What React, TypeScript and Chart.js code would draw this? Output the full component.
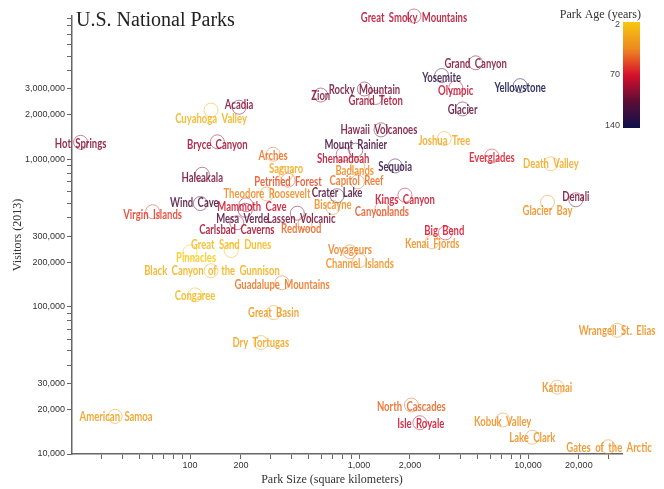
import { useEffect, useRef } from 'react';
import { Chart, registerables } from 'chart.js';

Chart.register(...registerables);

// ---- data ----
const parks = [
  'Acadia', 'American Samoa', 'Arches', 'Badlands', 'Big Bend', 'Biscayne',
  'Black Canyon of the Gunnison', 'Bryce Canyon', 'Canyonlands', 'Capitol Reef',
  'Carlsbad Caverns', 'Channel Islands', 'Congaree', 'Crater Lake', 'Cuyahoga Valley',
  'Death Valley', 'Denali', 'Dry Tortugas', 'Everglades', 'Gates of the Arctic',
  'Glacier', 'Glacier Bay', 'Grand Canyon', 'Grand Teton', 'Great Basin',
  'Great Sand Dunes', 'Great Smoky Mountains', 'Guadalupe Mountains', 'Haleakala',
  'Hawaii Volcanoes', 'Hot Springs', 'Isle Royale', 'Joshua Tree', 'Katmai',
  'Kenai Fjords', 'Kings Canyon', 'Kobuk Valley', 'Lake Clark', 'Lassen Volcanic',
  'Mammoth Cave', 'Mesa Verde', 'Mount Rainier', 'North Cascades', 'Olympic',
  'Petrified Forest', 'Pinnacles', 'Redwood', 'Rocky Mountain', 'Saguaro', 'Sequoia',
  'Shenandoah', 'Theodore Roosevelt', 'Virgin Islands', 'Voyageurs', 'Wind Cave',
  'Wrangell St. Elias', 'Yellowstone', 'Yosemite', 'Zion',
];

// park size, square kilometers
const areaKm2 = [
  195, 36, 310, 982, 3242, 700,
  133, 145, 1366, 979,
  189, 1010, 107, 741, 133,
  13650, 19186, 262, 6107, 29800,
  4100, 13045, 4900, 1255, 312,
  175, 2114, 350, 118,
  1348, 22.5, 2290, 3196, 14870,
  2711, 1869, 7085, 10602, 431,
  214, 212, 956, 2040, 3734,
  380, 100, 480, 1076, 370, 1635,
  806, 285, 60, 883, 115,
  33683, 8983, 3081, 593,
];

// recreational visitors in 2013
const visitors2013 = [
  2250000, 18000, 1080000, 892000, 316000, 470000,
  175000, 1310000, 460000, 700000,
  370000, 205000, 120000, 565000, 2150000,
  930000, 530000, 57000, 1050000, 11200,
  2190000, 510000, 4500000, 2620000, 91000,
  240000, 9350000, 145000, 790000,
  1580000, 1300000, 16300, 1380000, 28400,
  275000, 570000, 17000, 13000, 430000,
  490000, 450000, 1150000, 21500, 3050000,
  720000, 235000, 370000, 2990000, 800000, 900000,
  1080000, 580000, 440000, 235000, 500000,
  69000, 3150000, 3690000, 2720000,
];

// park age, years
const parkAge = [
  96, 27, 44, 37, 71, 35,
  16, 87, 51, 44,
  85, 35, 12, 113, 15,
  21, 98, 23, 68, 35,
  105, 35, 96, 86, 29,
  11, 81, 43, 99,
  99, 94, 75, 21, 35,
  35, 75, 35, 35, 99,
  74, 109, 116, 47, 77,
  53, 2, 47, 100, 21, 125,
  80, 37, 59, 40, 112,
  35, 140, 125, 96,
];

const xTickValues = [
  30, 40, 50, 60, 70, 80, 90,
  100, 200, 300, 400, 500, 600, 700, 800, 900,
  1000, 2000, 3000, 4000, 5000, 6000, 7000, 8000, 9000,
  10000, 20000, 30000,
];
const xTickLabels = [100, 200, 1000, 2000, 10000, 20000];

const yTickValues = [
  10000, 20000, 30000, 40000, 50000, 60000, 70000, 80000, 90000,
  100000, 200000, 300000, 400000, 500000, 600000, 700000, 800000, 900000,
  1000000, 2000000, 3000000, 4000000, 5000000, 6000000, 7000000, 8000000, 9000000,
];
const yTickLabels = [10000, 20000, 30000, 100000, 200000, 300000, 1000000, 2000000, 3000000];

const ageLegendTicks = [2, 70, 140];

// ---- layout / style ----
const W = 664;
const H = 489;
const AGE_MIN = 2;
const AGE_MAX = 140;

// small label shifts (px) so neighbouring names stay readable
const labelNudge: Record<string, [number, number]> = {
  'Acadia': [0, -3], 'American Samoa': [1, 0], 'Arches': [0, 1], 'Badlands': [-3, 4],
  'Big Bend': [-1, -2], 'Biscayne': [0, -3], 'Black Canyon of the Gunnison': [1, 0],
  'Bryce Canyon': [0, 3], 'Canyonlands': [0, 3], 'Capitol Reef': [-1, -1],
  'Carlsbad Caverns': [0, 7], 'Channel Islands': [0, 3], 'Congaree': [0, 1],
  'Crater Lake': [0, -3], 'Cuyahoga Valley': [0, 8], 'Denali': [0, -3],
  'Everglades': [0, 1], 'Gates of the Arctic': [1, 1], 'Glacier': [0, 1],
  'Glacier Bay': [0, 8], 'Grand Canyon': [0, 1], 'Grand Teton': [0, 3],
  'Great Sand Dunes': [0, -6], 'Great Smoky Mountains': [0, 1],
  'Guadalupe Mountains': [0, 2], 'Haleakala': [0, 3], 'Hawaii Volcanoes': [-2, 0],
  'Hot Springs': [0, 1], 'Isle Royale': [1, 1], 'Joshua Tree': [0, 2],
  'Kenai Fjords': [0, 2], 'Kings Canyon': [0, 4], 'Kobuk Valley': [0, 1],
  'Lassen Volcanic': [4, 5], 'Mammoth Cave': [6, 2], 'Mesa Verde': [-3, 8],
  'Mount Rainier': [0, -6], 'North Cascades': [0, 1], 'Olympic': [0, 3],
  'Petrified Forest': [0, 1], 'Pinnacles': [6, 6], 'Redwood': [-4, 6],
  'Saguaro': [0, -5], 'Sequoia': [0, 1], 'Shenandoah': [0, 4],
  'Theodore Roosevelt': [0, -1], 'Virgin Islands': [0, 3], 'Voyageurs': [0, -2],
  'Wind Cave': [-6, -1], 'Yellowstone': [0, 2], 'Yosemite': [0, 2],
};

const ageStops: [number, [number, number, number]][] = [
  [0, [247, 200, 16]],
  [0.25, [238, 138, 30]],
  [0.5, [215, 16, 44]],
  [0.75, [92, 12, 53]],
  [1, [13, 16, 76]],
];

function ageRgb(age: number): [number, number, number] {
  const t = Math.min(1, Math.max(0, (age - AGE_MIN) / (AGE_MAX - AGE_MIN)));
  for (let i = 1; i < ageStops.length; i++) {
    const [t1, c1] = ageStops[i];
    const [t0, c0] = ageStops[i - 1];
    if (t <= t1) {
      const f = (t - t0) / (t1 - t0);
      return [0, 1, 2].map((k) => Math.round(c0[k] + (c1[k] - c0[k]) * f)) as [number, number, number];
    }
  }
  return ageStops[ageStops.length - 1][1];
}

function ageColor(age: number, alpha: number) {
  const [r, g, b] = ageRgb(age);
  return `rgba(${r},${g},${b},${alpha})`;
}

const LABEL_FONT = 'bold 14px Lato';
const LABEL_SQUEEZE = 0.68;
const SERIF = '"Liberation Serif", "Times New Roman", serif';
const SANS = '"Liberation Sans", Arial, sans-serif';

const decorPlugin = {
  id: 'parkDecor',
  afterDatasetsDraw(chart: any) {
    const ctx: CanvasRenderingContext2D = chart.ctx;
    const meta = chart.getDatasetMeta(0);
    meta.data.forEach((pt: any, i: number) => {
      const name = parks[i];
      const [dx, dy] = labelNudge[name] ?? [0, 0];
      ctx.save();
      ctx.translate(pt.x + dx, pt.y + dy);
      ctx.scale(LABEL_SQUEEZE, 1);
      ctx.font = LABEL_FONT;
      (ctx as any).wordSpacing = '3px';
      ctx.textAlign = 'center';
      ctx.textBaseline = 'middle';
      ctx.fillStyle = ageColor(parkAge[i], 0.86);
      ctx.fillText(name, 0, 0);
      ctx.restore();
    });
  },
  afterDraw(chart: any) {
    const ctx: CanvasRenderingContext2D = chart.ctx;
    ctx.save();
    // chart title
    ctx.fillStyle = '#222';
    ctx.font = `20px ${SERIF}`;
    ctx.textAlign = 'left';
    ctx.textBaseline = 'alphabetic';
    ctx.fillText('U.S. National Parks', 76, 26);

    // axis titles
    ctx.fillStyle = '#333';
    ctx.font = `12px ${SERIF}`;
    ctx.textAlign = 'center';
    ctx.textBaseline = 'middle';
    ctx.fillText('Park Size (square kilometers)', 332, 480);
    ctx.save();
    ctx.translate(18, 235);
    ctx.rotate(-Math.PI / 2);
    ctx.fillText('Visitors (2013)', 0, 0);
    ctx.restore();

    // age colour legend
    const lx = 623;
    const lw = 17;
    const top = 22;
    const bottom = 128;
    const grad = ctx.createLinearGradient(0, top, 0, bottom);
    ageStops.forEach(([t, c]) => grad.addColorStop(t, `rgb(${c[0]},${c[1]},${c[2]})`));
    ctx.fillStyle = grad;
    ctx.fillRect(lx, top, lw, bottom - top);

    ctx.fillStyle = '#333';
    ctx.font = `12px ${SERIF}`;
    ctx.textAlign = 'right';
    ctx.fillText('Park Age (years)', 641, 15);

    ctx.fillStyle = '#444';
    ctx.font = `9px ${SANS}`;
    ctx.textAlign = 'right';
    ageLegendTicks.forEach((a) => {
      const y = top + ((a - AGE_MIN) / (AGE_MAX - AGE_MIN)) * (bottom - top);
      ctx.fillText(String(a), 620, Math.min(Math.max(y, top + 3), bottom - 2));
    });
    ctx.restore();
  },
};

const fmt = (v: number) => v.toLocaleString('en-US');

export default function App() {
  const ref = useRef<HTMLCanvasElement | null>(null);

  useEffect(() => {
    const canvas = ref.current;
    if (!canvas) return;
    const points = parks.map((_, i) => ({ x: areaKm2[i], y: visitors2013[i] }));
    const chart = new Chart(canvas, {
      type: 'scatter',
      data: {
        datasets: [
          {
            data: points,
            pointRadius: 7,
            pointBorderWidth: 1,
            pointBackgroundColor: 'rgba(0,0,0,0)',
            pointBorderColor: parkAge.map((a) => ageColor(a, 0.5)),
            clip: false as any,
          },
        ],
      },
      options: {
        responsive: false,
        animation: false,
        events: [],
        layout: { padding: { top: 16, right: 42, left: 0, bottom: 0 } },
        plugins: { legend: { display: false }, tooltip: { enabled: false } },
        scales: {
          x: {
            type: 'logarithmic',
            min: 20,
            max: 36000,
            afterFit: (s: any) => { s.height = 35; },
            afterBuildTicks: (s: any) => { s.ticks = xTickValues.map((v) => ({ value: v })); },
            grid: { display: true, drawOnChartArea: false, drawTicks: true, tickLength: 5, color: '#666', lineWidth: 1 },
            border: { display: true, color: '#666', width: 1.5 },
            ticks: {
              autoSkip: false,
              maxRotation: 0,
              padding: 1,
              color: '#333',
              font: { size: 9, family: SANS },
              callback: (v: any) => (xTickLabels.includes(Number(v)) ? fmt(Number(v)) : ''),
            },
          },
          y: {
            type: 'logarithmic',
            min: 10000,
            max: 9350000,
            afterFit: (s: any) => { s.width = 72; },
            afterBuildTicks: (s: any) => { s.ticks = yTickValues.map((v) => ({ value: v })); },
            grid: { display: true, drawOnChartArea: false, drawTicks: true, tickLength: 5, color: '#666', lineWidth: 1 },
            border: { display: true, color: '#666', width: 1.5 },
            ticks: {
              autoSkip: false,
              padding: 2,
              color: '#333',
              font: { size: 9, family: SANS },
              callback: (v: any) => (yTickLabels.includes(Number(v)) ? fmt(Number(v)) : ''),
            },
          },
        },
      },
      plugins: [decorPlugin],
    } as any);
    return () => chart.destroy();
  }, []);

  return (
    <div style={{ position: 'fixed', left: 0, top: 0, width: W, height: H, background: '#fff' }}>
      <canvas ref={ref} width={W} height={H} style={{ display: 'block' }} />
    </div>
  );
}
